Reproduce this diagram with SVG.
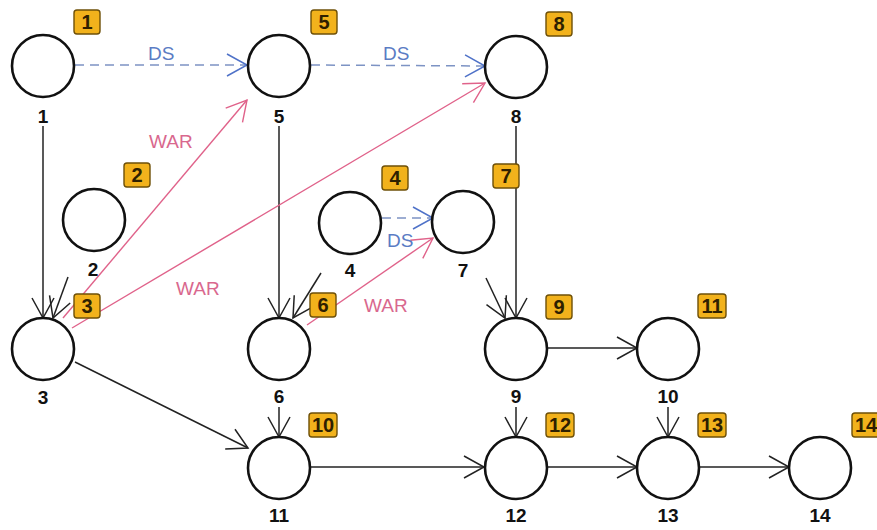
<svg xmlns="http://www.w3.org/2000/svg" width="877" height="530" viewBox="0 0 877 530">
  <style>
    .node circle { fill: #ffffff; stroke: #111111; stroke-width: 2.6; }
    .node .lbl { font-family: "Liberation Sans", Arial, sans-serif; font-size: 19px; font-weight: bold; fill: #111111; text-anchor: middle; }
    .node .badge { fill: #f2b21c; stroke: #6e5008; stroke-width: 1.4; }
    .node .num { font-family: "Liberation Sans", Arial, sans-serif; font-size: 20px; font-weight: bold; fill: #2e2000; text-anchor: middle; }
    .edge { fill: none; stroke: #222222; stroke-width: 1.5; marker-end: url(#arrBlack); }
    .war { fill: none; stroke: #e0628a; stroke-width: 1.4; marker-end: url(#arrPink); }
    .ds { fill: none; stroke: #7d93c4; stroke-width: 1.5; stroke-dasharray: 9 6; marker-end: url(#arrBlue); }
    .tWar { font-family: "Liberation Sans", Arial, sans-serif; font-size: 19px; fill: #d9688e; }
    .tDs { font-family: "Liberation Sans", Arial, sans-serif; font-size: 19px; fill: #5a7cc4; }
  </style>
  <defs>
    <marker id="arrBlack" markerUnits="userSpaceOnUse" viewBox="-22 -13 24 26" refX="0" refY="0" markerWidth="24" markerHeight="26" orient="auto">
      <path d="M-20,-11 L0,0 L-20,11" fill="none" stroke="#222222" stroke-width="1.5"/>
    </marker>
    <marker id="arrPink" markerUnits="userSpaceOnUse" viewBox="-22 -13 24 26" refX="0" refY="0" markerWidth="24" markerHeight="26" orient="auto">
      <path d="M-20,-11 L0,0 L-20,11" fill="none" stroke="#e0628a" stroke-width="1.4"/>
    </marker>
    <marker id="arrBlue" markerUnits="userSpaceOnUse" viewBox="-22 -13 24 26" refX="0" refY="0" markerWidth="24" markerHeight="26" orient="auto">
      <path d="M-20,-11 L0,0 L-20,11" fill="none" stroke="#4f72c8" stroke-width="1.5"/>
    </marker>
  </defs>

  <rect width="877" height="530" fill="#ffffff"/>

  <!-- connectors -->
  <g id="connectors">
    <path class="edge" d="M43,126 L43,318"/>
    <path class="edge" d="M279,126 L279,318"/>
    <path class="edge" d="M516,126 L516,318"/>
    <path class="edge" d="M68,277 L53,318"/>
    <path class="edge" d="M321,273 L293,318"/>
    <path class="edge" d="M486,278 L505,318"/>
    <path class="edge" d="M75,362 L248,448"/>
    <path class="edge" d="M279,407 L279,437"/>
    <path class="edge" d="M547,348 L637,348"/>
    <path class="edge" d="M310,467 L484,467"/>
    <path class="edge" d="M516,407 L516,437"/>
    <path class="edge" d="M668,407 L668,437"/>
    <path class="edge" d="M547,467 L637,467"/>
    <path class="edge" d="M700,467 L789,467"/>

    <path class="war" d="M63,318 L247,100"/>
    <path class="war" d="M72,328 L485,83"/>
    <path class="war" d="M307,325 L433,238"/>

    <path class="ds" d="M75,65 L247,65"/>
    <path class="ds" d="M311,65 L485,66"/>
    <path class="ds" d="M382,218 L433,218"/>

    <text class="tWar" x="149" y="148">WAR</text>
    <text class="tWar" x="176" y="295">WAR</text>
    <text class="tWar" x="364" y="312">WAR</text>
    <text class="tDs" x="148" y="60">DS</text>
    <text class="tDs" x="383" y="60">DS</text>
    <text class="tDs" x="387" y="247">DS</text>
  </g>

  <!-- nodes -->
  <g id="node1" class="node">
    <circle cx="43" cy="66" r="31"/>
    <text class="lbl" x="43" y="123">1</text>
    <rect class="badge" x="74" y="10" width="26" height="24" rx="3"/>
    <text class="num" x="87" y="29">1</text>
  </g>
  <g id="node2" class="node">
    <circle cx="94" cy="220" r="31"/>
    <text class="lbl" x="93" y="276">2</text>
    <rect class="badge" x="124" y="163" width="26" height="24" rx="3"/>
    <text class="num" x="137" y="182">2</text>
  </g>
  <g id="node3" class="node">
    <circle cx="43" cy="349" r="31"/>
    <text class="lbl" x="43" y="404">3</text>
    <rect class="badge" x="74" y="294" width="26" height="24" rx="3"/>
    <text class="num" x="87" y="313">3</text>
  </g>
  <g id="node4" class="node">
    <circle cx="350" cy="223" r="31"/>
    <text class="lbl" x="350" y="277">4</text>
    <rect class="badge" x="382" y="166" width="26" height="24" rx="3"/>
    <text class="num" x="395" y="185">4</text>
  </g>
  <g id="node5" class="node">
    <circle cx="279" cy="66" r="31"/>
    <text class="lbl" x="279" y="123">5</text>
    <rect class="badge" x="311" y="10" width="26" height="24" rx="3"/>
    <text class="num" x="324" y="29">5</text>
  </g>
  <g id="node6" class="node">
    <circle cx="279" cy="349" r="31"/>
    <text class="lbl" x="279" y="403">6</text>
    <rect class="badge" x="310" y="293" width="26" height="24" rx="3"/>
    <text class="num" x="323" y="312">6</text>
  </g>
  <g id="node7" class="node">
    <circle cx="463" cy="222" r="31"/>
    <text class="lbl" x="463" y="277">7</text>
    <rect class="badge" x="493" y="164" width="26" height="24" rx="3"/>
    <text class="num" x="506" y="183">7</text>
  </g>
  <g id="node8" class="node">
    <circle cx="516" cy="67" r="31"/>
    <text class="lbl" x="516" y="123">8</text>
    <rect class="badge" x="546" y="12" width="26" height="24" rx="3"/>
    <text class="num" x="559" y="31">8</text>
  </g>
  <g id="node9" class="node">
    <circle cx="516" cy="349" r="31"/>
    <text class="lbl" x="516" y="403">9</text>
    <rect class="badge" x="546" y="295" width="26" height="24" rx="3"/>
    <text class="num" x="559" y="314">9</text>
  </g>
  <g id="node10" class="node">
    <circle cx="668" cy="349" r="31"/>
    <text class="lbl" x="668" y="403">10</text>
    <rect class="badge" x="698" y="294" width="28" height="24" rx="3"/>
    <text class="num" x="712" y="313">11</text>
  </g>
  <g id="node11" class="node">
    <circle cx="279" cy="468" r="31"/>
    <text class="lbl" x="279" y="522">11</text>
    <rect class="badge" x="309" y="413" width="28" height="24" rx="3"/>
    <text class="num" x="323" y="432">10</text>
  </g>
  <g id="node12" class="node">
    <circle cx="516" cy="468" r="31"/>
    <text class="lbl" x="516" y="522">12</text>
    <rect class="badge" x="546" y="413" width="28" height="24" rx="3"/>
    <text class="num" x="560" y="432">12</text>
  </g>
  <g id="node13" class="node">
    <circle cx="668" cy="468" r="31"/>
    <text class="lbl" x="668" y="522">13</text>
    <rect class="badge" x="698" y="413" width="28" height="24" rx="3"/>
    <text class="num" x="712" y="432">13</text>
  </g>
  <g id="node14" class="node">
    <circle cx="820" cy="468" r="31"/>
    <text class="lbl" x="820" y="522">14</text>
    <rect class="badge" x="852" y="413" width="28" height="24" rx="3"/>
    <text class="num" x="866" y="432">14</text>
  </g>
</svg>
